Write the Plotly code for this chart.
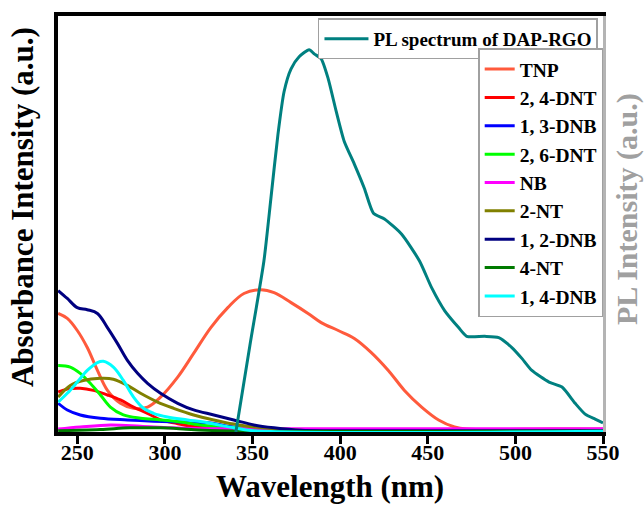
import plotly.graph_objects as go

# Absorbance spectra of the nitro-aromatic analytes (a.u.)
wl_tnp = [239.1, 244.3, 250.0, 255.7, 261.5, 267.2, 274.6, 282.1, 290.1, 297.5, 307.3, 316.4,
          326.2, 335.9, 345.1, 354.8, 362.3, 372.0, 381.7, 389.2, 398.9, 408.1, 417.8, 427.5,
          436.7, 446.5, 456.2, 465.3, 472.2, 520.9, 550.0]
abs_tnp = [0.285, 0.273, 0.244, 0.203, 0.148, 0.100, 0.069, 0.057, 0.060, 0.084, 0.132, 0.189,
           0.251, 0.299, 0.333, 0.342, 0.335, 0.311, 0.285, 0.263, 0.244, 0.225, 0.191, 0.148,
           0.100, 0.060, 0.029, 0.012, 0.007, 0.007, 0.007]

wl_24dnt = [239.1, 244.3, 251.7, 259.2, 267.2, 274.6, 282.1, 290.1, 297.5, 305.0, 314.7, 327.9, 343.4, 400.0, 550.0]
abs_24dnt = [0.096, 0.103, 0.105, 0.100, 0.089, 0.077, 0.060, 0.045, 0.029, 0.022, 0.014, 0.010, 0.005, 0.003, 0.003]

wl_13dnb = [239.1, 244.3, 251.7, 263.2, 278.6, 293.5, 309.0, 324.5, 339.3, 354.8, 400.0, 550.0]
abs_13dnb = [0.069, 0.053, 0.041, 0.033, 0.029, 0.026, 0.024, 0.022, 0.012, 0.005, 0.003, 0.003]

wl_26dnt = [239.1, 246.0, 251.7, 257.4, 263.2, 268.9, 276.3, 286.1, 297.5, 309.0, 320.4, 331.9, 343.4, 358.8, 550.0]
abs_26dnt = [0.160, 0.156, 0.141, 0.117, 0.089, 0.060, 0.041, 0.033, 0.029, 0.024, 0.017, 0.012, 0.010, 0.005, 0.004]

wl_nb = [239.1, 251.7, 268.9, 286.1, 303.3, 320.4, 400.0, 550.0]
abs_nb = [0.007, 0.012, 0.017, 0.014, 0.010, 0.008, 0.008, 0.008]

wl_2nt = [239.1, 246.0, 253.4, 263.2, 270.6, 278.6, 286.1, 295.8, 305.0, 316.4, 327.9, 339.3, 350.8, 366.3, 381.7, 550.0]
abs_2nt = [0.084, 0.112, 0.124, 0.129, 0.127, 0.112, 0.093, 0.072, 0.057, 0.041, 0.029, 0.019, 0.012, 0.007, 0.003, 0.003]

wl_12dnb = [239.1, 244.3, 250.0, 255.7, 261.5, 267.2, 272.9, 278.6, 284.4, 290.1, 297.5, 307.3,
            316.4, 327.9, 339.3, 350.8, 362.3, 377.7, 400.0, 550.0]
abs_12dnb = [0.340, 0.321, 0.299, 0.294, 0.285, 0.251, 0.213, 0.172, 0.141, 0.117, 0.093, 0.069,
             0.053, 0.041, 0.029, 0.017, 0.010, 0.004, 0.003, 0.003]

wl_4nt = [239.1, 263.2, 280.0, 297.5, 315.0, 332.0, 550.0]
abs_4nt = [0.003, 0.006, 0.010, 0.010, 0.006, 0.003, 0.002]

wl_14dnb = [239.1, 244.3, 250.0, 255.7, 261.5, 264.9, 270.6, 276.3, 282.1, 287.8, 293.5, 301.5,
            313.0, 324.5, 339.3, 350.8, 550.0]
abs_14dnb = [0.072, 0.093, 0.120, 0.148, 0.167, 0.170, 0.156, 0.124, 0.084, 0.057, 0.045, 0.036,
             0.029, 0.022, 0.010, 0.003, 0.002]

# Photoluminescence spectrum of DAP-RGO (a.u.)
wl_pl = [340.5, 348.5, 356.5, 360.5, 364.5, 368.0, 372.0, 376.6, 382.3, 385.2, 389.2, 393.2,
         397.8, 402.3, 408.1, 413.8, 419.0, 425.3, 435.0, 445.3, 452.2, 459.6, 467.6, 472.2,
         482.5, 490.5, 498.0, 503.7, 509.4, 519.2, 526.6, 534.1, 539.8, 545.5, 550.0]
pl = [0.000, 0.208, 0.411, 0.562, 0.715, 0.818, 0.873, 0.902, 0.919, 0.909, 0.897, 0.849,
      0.770, 0.699, 0.644, 0.586, 0.526, 0.512, 0.476, 0.411, 0.347, 0.292, 0.251, 0.230,
      0.230, 0.227, 0.203, 0.177, 0.148, 0.120, 0.108, 0.069, 0.043, 0.031, 0.022]

x_ticks = [250, 300, 350, 400, 450, 500, 550]

series = [
    ("TNP", wl_tnp, abs_tnp, "#ff5a3c"),
    ("2, 4-DNT", wl_24dnt, abs_24dnt, "#ff0000"),
    ("1, 3-DNB", wl_13dnb, abs_13dnb, "#0000ff"),
    ("2, 6-DNT", wl_26dnt, abs_26dnt, "#00ff00"),
    ("NB", wl_nb, abs_nb, "#ff00ff"),
    ("2-NT", wl_2nt, abs_2nt, "#808000"),
    ("1, 2-DNB", wl_12dnb, abs_12dnb, "#000080"),
    ("4-NT", wl_4nt, abs_4nt, "#007a00"),
    ("1, 4-DNB", wl_14dnb, abs_14dnb, "#00ffff"),
]

FONT = "Liberation Serif"

fig = go.Figure()
for name, x, y, color in series:
    fig.add_trace(go.Scatter(
        x=x, y=y, name=name, mode="lines", line=dict(color=color, width=3, shape="spline"),
        legend="legend2", showlegend=True,
    ))

fig.add_trace(go.Scatter(
    x=wl_pl, y=pl, name="PL spectrum of DAP-RGO", mode="lines",
    line=dict(color="#008080", width=3, shape="spline", smoothing=0.6),
    yaxis="y2", legend="legend", showlegend=True,
))

fig.update_layout(
    width=644, height=505,
    margin=dict(l=58, r=41, t=14, b=73),
    paper_bgcolor="white", plot_bgcolor="white",
    showlegend=True,
    font=dict(family=FONT, color="black", weight="bold"),
    xaxis=dict(
        range=[239, 550], tickvals=x_ticks, ticks="outside", ticklen=8, tickwidth=3,
        tickcolor="black", showline=True, linewidth=4, linecolor="black", mirror=True,
        showgrid=False, zeroline=False, ticklabelstandoff=-10,
        tickfont=dict(family=FONT, size=22, color="black", weight="bold"),
    ),
    yaxis=dict(
        range=[0, 1.0], showticklabels=False, ticks="", showline=True, linewidth=4,
        linecolor="black", showgrid=False, zeroline=False,
    ),
    yaxis2=dict(
        range=[0, 1.0], overlaying="y", side="right", showticklabels=False, ticks="",
        showline=True, linewidth=3, linecolor="#b4b4b4", showgrid=False, zeroline=False,
    ),
    legend=dict(
        x=0.477, y=0.994, xanchor="left", yanchor="top", visible=True,
        bgcolor="white", bordercolor="#a0a0a0", borderwidth=1.5,
        font=dict(family=FONT, size=19, color="black", weight="bold"),
        itemwidth=44,
    ),
    legend2=dict(
        x=0.771, y=0.922, xanchor="left", yanchor="top", visible=True,
        bgcolor="white", bordercolor="#a0a0a0", borderwidth=1.5,
        font=dict(family=FONT, size=19.5, color="black", weight="bold"),
        itemwidth=30, tracegroupgap=0,
    ),
    annotations=[
        dict(text="Wavelength (nm)", xref="paper", yref="paper", x=0.499, y=-0.132,
             xanchor="center", yanchor="middle", showarrow=False,
             font=dict(family=FONT, size=31, color="black", weight="bold")),
        dict(text="Absorbance Intensity (a.u.)", xref="paper", yref="paper", x=-0.064, y=0.541,
             xanchor="center", yanchor="middle", showarrow=False, textangle=-90,
             font=dict(family=FONT, size=31, color="black", weight="bold")),
        dict(text="PL Intensity (a.u.)", xref="paper", yref="paper", x=1.044, y=0.536,
             xanchor="center", yanchor="middle", showarrow=False, textangle=-90,
             font=dict(family=FONT, size=30, color="#a0a0a0", weight="bold")),
    ],
)

fig.write_html("out.html")
